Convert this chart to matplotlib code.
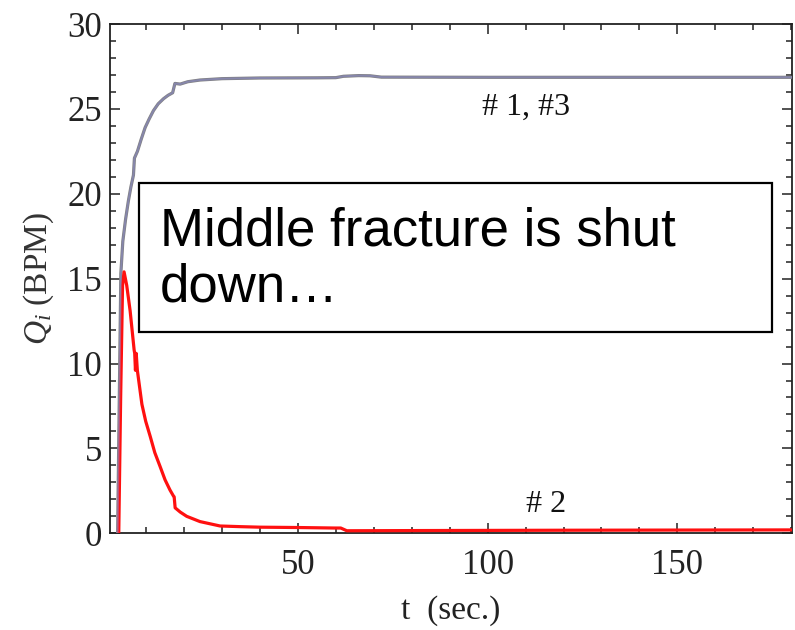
import matplotlib
matplotlib.use("Agg")
import matplotlib.pyplot as plt
from matplotlib.patches import Rectangle
from matplotlib.ticker import MultipleLocator

# fractures #1 and #3 (same curve)
t_13 = [2.5, 3.0, 3.35, 3.87, 4.6, 5.35, 6.0, 6.67, 6.93, 7.72, 8.7, 9.75, 10.8, 11.95,
        13.2, 14.6, 15.8, 17.0, 17.6, 18.98, 21.0, 24.2, 30.0, 40.0, 55.0, 60.0, 62.0,
        66.0, 69.0, 72.0, 100.0, 140.0, 181.0]
q_13 = [0.0, 9.0, 15.3, 17.2, 18.5, 19.6, 20.4, 21.1, 22.1, 22.5, 23.2, 23.9, 24.4, 24.9,
        25.3, 25.6, 25.8, 25.95, 26.5, 26.46, 26.6, 26.7, 26.78, 26.82, 26.83, 26.84, 26.92,
        26.96, 26.95, 26.87, 26.86, 26.86, 26.86]

# middle fracture #2
t_2 = [2.8, 3.3, 3.8, 4.2, 4.9, 5.8, 6.85, 7.0, 7.2, 7.4, 7.7, 8.9, 9.9, 11.1, 12.3, 13.7,
       15.0, 16.3, 17.2, 17.4, 17.66, 19.0, 20.7, 24.2, 29.5, 35.0, 40.06, 50.0, 59.8,
       61.3, 62.9, 80.0, 120.0, 181.0]
q_2 = [0.0, 8.0, 14.6, 15.4, 14.6, 13.1, 10.8, 10.6, 9.6, 10.6, 9.6, 7.6, 6.6, 5.7, 4.75,
       3.93, 3.15, 2.55, 2.2, 2.15, 1.5, 1.25, 1.0, 0.69, 0.43, 0.39, 0.36, 0.34, 0.31,
       0.31, 0.15, 0.16, 0.18, 0.2]

plt.rcParams['font.family'] = ['Liberation Serif', 'DejaVu Serif']
plt.rcParams['mathtext.fontset'] = 'custom'
plt.rcParams['mathtext.rm'] = 'Liberation Serif'
plt.rcParams['mathtext.it'] = 'Liberation Serif:italic'

fig = plt.figure(figsize=(7.95, 6.3), dpi=100)
ax = fig.add_axes([0.1384, 0.1535, 0.8578, 0.8084])

ax.plot(t_13, q_13, color='#808080', lw=2.3, zorder=3)
ax.plot(t_13, q_13, color='#8c8cd0', lw=1.4, alpha=0.55, zorder=4)
ax.plot(t_2, q_2, color='#ff1010', lw=2.3, zorder=3)

ax.set_xlim(0.5, 180.2)
ax.set_ylim(0, 30)
ax.xaxis.set_major_locator(MultipleLocator(50))
ax.xaxis.set_minor_locator(MultipleLocator(10))
ax.yaxis.set_major_locator(MultipleLocator(5))
ax.yaxis.set_minor_locator(MultipleLocator(1))
ax.tick_params(which='both', direction='in', top=True, right=True, width=1.1, colors='#222222')
ax.tick_params(which='major', length=7, labelsize=25, pad=6)
ax.tick_params(axis='x', which='major', pad=11)
ax.tick_params(which='minor', length=4)
for sp in ax.spines.values():
    sp.set_linewidth(1.3)
    sp.set_color('#222222')

ax.set_xlabel('t  (sec.)', fontsize=24, labelpad=10, color='#222222')
ax.set_ylabel('$Q_i$ (BPM)', fontsize=24, labelpad=8, color='#333333')

ax.text(110.2, 25.1, '# 1, #3', fontsize=23, ha='center', va='center', color='#111111')
ax.text(115.5, 1.7, '# 2', fontsize=23, ha='center', va='center', color='#111111')

ax.add_patch(Rectangle((8.2, 11.86), 166.8, 8.77, fill=True, facecolor='white',
                       edgecolor='black', lw=1.6, zorder=5))
ax.text(13.6, 16.15, 'Middle fracture is shut\ndown…', fontsize=38,
        family=['Liberation Sans', 'DejaVu Sans'],
        ha='left', va='center', linespacing=1.15, zorder=6)

fig.savefig('out.png', dpi=100)
